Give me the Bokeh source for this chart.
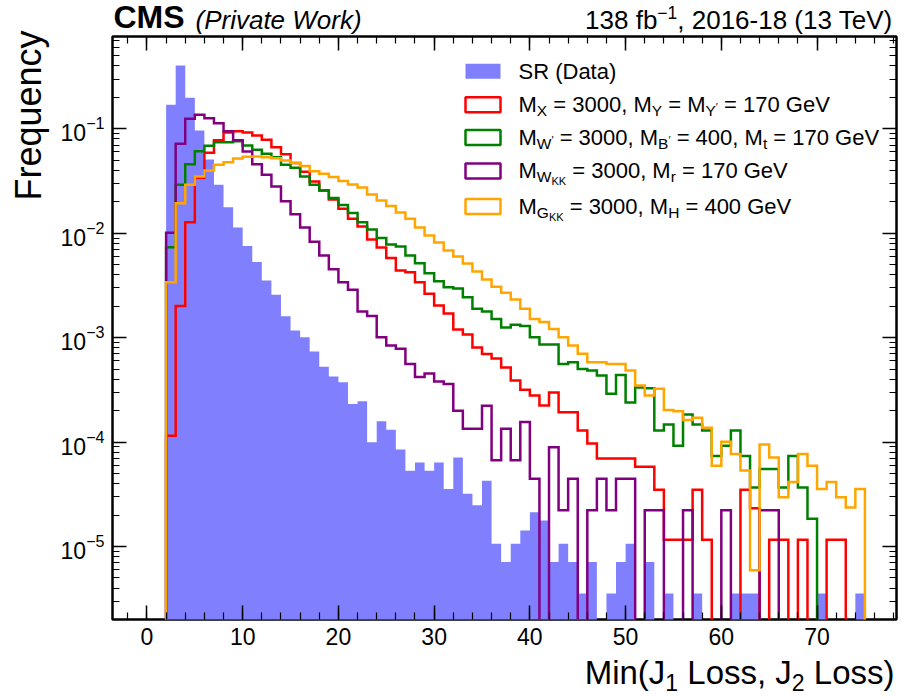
import numpy as np
from bokeh.plotting import figure
from bokeh.layouts import row, column
from bokeh.models import (Label, LinearAxis, LogAxis, SingleIntervalTicker, FixedTicker,
                          CustomJSTickFormatter, BoxAnnotation)
from bokeh.embed import file_html
from bokeh.resources import INLINE

# ------------------------------------------------------------------ data
bin_lo = 2.0
bin_width = 1.0

sr_data = [0.170, 0.404, 0.198, 0.0963, 0.0508, 0.0291, 0.01774, 0.01135, 0.00754, 0.00530,
           0.00352, 0.00257, 0.00160, 0.00117, 0.00101, 0.000736, 0.000528, 0.000424, 0.000374, 0.000232,
           0.000246, 9.95e-5, 1.58e-4, 1.31e-4, 8.5e-5, 5.33e-5, 6.39e-5, 5.33e-5, 6.39e-5, 3.55e-5,
           7.1e-5, 3.2e-5, 2.49e-5, 4.26e-5, 1.065e-5, 7.1e-6, 1.065e-5, 1.42e-5, 2.13e-5, 1.775e-5,
           7.1e-6, 1.065e-5, 7.1e-6, 3.55e-6, 7.1e-6, 0, 3.55e-6, 7.1e-6, 1.065e-5, 0,
           7.1e-6, 0, 3.55e-6, 0, 0, 3.55e-6, 0, 0, 0, 3.55e-6,
           3.55e-6, 3.55e-6, 0, 0, 0, 0, 0, 0, 3.55e-6, 0,
           0, 0, 3.55e-6]

sig_x = [1.15e-4, 0.00201, 0.01274, 0.0340, 0.0589, 0.0778, 0.0922, 0.0948, 0.0922, 0.0863,
         0.0785, 0.0667, 0.0571, 0.0470, 0.0388, 0.0313, 0.0256, 0.0210, 0.01714, 0.01374,
         0.01159, 0.00871, 0.00730, 0.00578, 0.00439, 0.00423, 0.00339, 0.00263, 0.00203, 0.00170,
         0.00120, 0.00107, 0.000804, 0.000697, 0.000631, 0.000517, 0.000388, 0.000318, 0.000279, 0.000224,
         0.000298, 0.000193, 0.000193, 0.000129, 9.68e-5, 6.98e-5, 6.98e-5, 6.98e-5, 6.98e-5, 5.82e-5,
         5.82e-5, 3.49e-5, 1.16e-5, 1.16e-5, 1.16e-5, 3.49e-5, 1.16e-5, 0, 0, 0,
         3.49e-5, 2.33e-5, 0, 1.16e-5, 1.16e-5, 0, 1.16e-5, 0, 0, 1.16e-5,
         1.16e-5, 0, 0]

sig_wprime = [0.00734, 0.0291, 0.0458, 0.0610, 0.0689, 0.0744, 0.0744, 0.0760, 0.0692, 0.0631,
              0.0576, 0.0535, 0.0452, 0.0424, 0.0349, 0.0292, 0.0256, 0.0217, 0.0186, 0.0156,
              0.01274, 0.01084, 0.00899, 0.00780, 0.00746, 0.00611, 0.00516, 0.00414, 0.00347, 0.00304,
              0.00295, 0.00244, 0.00189, 0.00178, 0.00151, 0.00125, 0.00133, 0.00129, 0.00101, 0.000859,
              0.000859, 0.000561, 0.000581, 0.000502, 0.000484, 0.000434, 0.000290, 0.000439, 0.000240, 0.000333,
              0.000327, 1.29e-4, 1.47e-4, 9.2e-5, 1.84e-4, 1.47e-4, 1.29e-4, 7.36e-5, 9.2e-5, 1.29e-4,
              7.36e-5, 3.68e-5, 5.52e-5, 5.52e-5, 3.68e-5, 7.36e-5, 3.68e-5, 1.84e-5, 0, 0,
              0, 0, 0]

sig_wkk = [0.01009, 0.0718, 0.1247, 0.1365, 0.1261, 0.1131, 0.0948, 0.0778, 0.0606, 0.0458,
           0.0363, 0.0281, 0.0202, 0.01517, 0.01135, 0.00830, 0.00611, 0.00452, 0.00339, 0.00287,
           0.00178, 0.00161, 0.00101, 0.000840, 0.000782, 0.000561, 0.000421, 0.000453, 0.000380, 0.000361,
           2.0e-4, 1.34e-4, 1.34e-4, 2.23e-4, 6.69e-5, 1.34e-4, 6.69e-5, 1.56e-4, 4.46e-5, 0,
           8.92e-5, 2.23e-5, 4.46e-5, 0, 2.23e-5, 4.46e-5, 2.23e-5, 4.46e-5, 4.46e-5, 0,
           2.23e-5, 2.23e-5, 0, 0, 2.23e-5, 0, 0, 0, 2.23e-5, 0,
           0, 0, 2.23e-5, 2.23e-5, 0, 0, 0, 0, 0, 0,
           0, 0, 0]

sig_gkk = [0.00339, 0.01938, 0.0291, 0.0349, 0.0399, 0.0452, 0.0479, 0.0519, 0.0539, 0.0543,
           0.0535, 0.0523, 0.0497, 0.0472, 0.0441, 0.0393, 0.0371, 0.0345, 0.0316, 0.0293,
           0.0274, 0.0235, 0.0206, 0.01824, 0.01578, 0.01374, 0.01135, 0.00951, 0.00815, 0.00683,
           0.00598, 0.00513, 0.00430, 0.00360, 0.00308, 0.00270, 0.00232, 0.00189, 0.00151, 0.00141,
           0.00121, 0.00101, 0.000840, 0.000700, 0.000581, 0.000581, 0.000561, 0.000561, 0.000484, 0.000348,
           0.000279, 0.000324, 0.000203, 0.000197, 0.000163, 0.000171, 0.000137, 5.93e-5, 1.01e-4, 7.71e-5,
           5.34e-5, 5.93e-6, 9.49e-5, 7.12e-5, 2.97e-5, 4.15e-5, 7.71e-5, 5.93e-5, 3.56e-5, 4.15e-5,
           2.97e-5, 2.37e-5, 3.56e-5]

x_major_step = 10
y_decades = [-6, -5, -4, -3, -2, -1, 0]

# ------------------------------------------------------------------ layout constants (page pixels)
W, H = 901, 699
LEFT_W = 55            # strip holding the y-axis title
HEAD_H = 34            # strip holding the CMS header
FOOT_H = 44            # strip holding the x-axis title
FL, FR, FT, FB = 112, 896, 36, 619   # plot frame in page pixels
XMIN, XMAX = -3.6, 78.3
YMIN, YMAX = 2.0e-6, 0.766
FONT = "Liberation Sans"
FLOOR = 1e-9
BASE_SHIFT = 0.345     # label anchor -> glyph baseline distance, in em

def px2x(X):
    return XMIN + (X - FL) / (FR - FL) * (XMAX - XMIN)

def px2y(Y):
    lt, lb = np.log10(YMAX), np.log10(YMIN)
    return 10 ** (lt - (Y - FT) / (FB - FT) * (lt - lb))

ARIAL = {' ': 278, '(': 333, ')': 333, ',': 278, '-': 333, '=': 584, '\u2212': 584, '\u2032': 190,
         'A': 667, 'B': 667, 'C': 722, 'D': 722, 'G': 778, 'H': 722, 'J': 500, 'K': 667, 'L': 556,
         'M': 833, 'P': 667, 'R': 722, 'S': 667, 'T': 611, 'V': 667, 'W': 944, 'X': 667, 'Y': 667,
         'a': 556, 'b': 556, 'e': 556, 'f': 278, 'i': 222, 'k': 500, 'n': 556, 'o': 556, 'r': 333,
         's': 500, 't': 278, 'v': 500}
for d in "0123456789":
    ARIAL[d] = 556

def tw(s, size):
    return sum(ARIAL.get(c, 556) for c in s) * size / 1000.0

def place_pieces(fig, items, x0, base, conv_x, conv_y, align_right=False):
    total = sum(tw(t, s) for t, s, dy, st in items)
    cur = x0 - total if align_right else x0
    for t, s, dy, st in items:
        lead = len(t) - len(t.lstrip(' '))
        body = t.strip(' ')
        cx = cur + tw(' ' * lead, s)
        if body:
            fig.add_layout(Label(x=conv_x(cx), y=conv_y(base + dy - BASE_SHIFT * s), text=body,
                                 text_font=FONT, text_font_size=f"{s}px", text_font_style=st,
                                 text_color="black", text_align="left", text_baseline="alphabetic"))
        cur += tw(t, s)

MAIN_W = W - LEFT_W
MAIN_H = H - HEAD_H - FOOT_H
B_LEFT = FL - LEFT_W
B_RIGHT = W - FR

def strip(h, y_top):
    # same horizontal borders as the main plot, so frames line up; coordinates are page pixels
    f = figure(width=MAIN_W, height=h, x_range=(FL, FR), y_range=(y_top + h, y_top),
               output_backend="svg", toolbar_location=None, x_axis_location=None,
               y_axis_location=None, title=None, min_border_left=B_LEFT, min_border_right=B_RIGHT,
               min_border_top=0, min_border_bottom=0)
    f.xgrid.visible = False
    f.ygrid.visible = False
    f.outline_line_color = None
    return f

p = figure(width=MAIN_W, height=MAIN_H, x_range=(XMIN, XMAX), y_range=(YMIN, YMAX), y_axis_type="log",
           output_backend="svg", toolbar_location=None, title=None,
           min_border_left=B_LEFT, min_border_right=B_RIGHT,
           min_border_top=FT - HEAD_H, min_border_bottom=(H - FOOT_H) - FB)
p.xgrid.visible = False
p.ygrid.visible = False
p.outline_line_color = "black"
p.outline_line_width = 2.5

edges = bin_lo + bin_width * np.arange(len(sr_data) + 1)

def outline(vals):
    v = np.asarray(vals, dtype=float)
    v = np.where(v > 0, v, FLOOR)
    xs = np.repeat(edges, 2)
    ys = np.concatenate([[FLOOR], np.repeat(v, 2), [FLOOR]])
    return xs, ys

xs, ys = outline(sr_data)
p.patch(xs, ys, fill_color="#8080ff", line_color=None)

series = [(sig_x, "#ff0000"), (sig_wprime, "#008000"), (sig_wkk, "#800080"), (sig_gkk, "#ffa500")]
for vals, col in series:
    xs, ys = outline(vals)
    p.line(xs, ys, line_color=col, line_width=2.5, line_join="miter")

# ------------------------------------------------------------------ axes
xt = SingleIntervalTicker(interval=x_major_step, num_minor_ticks=5)
ymaj = [10.0 ** k for k in y_decades]
ymin_t = [m * 10.0 ** k for k in y_decades[:-1] for m in range(2, 10)]
yt = FixedTicker(ticks=ymaj, minor_ticks=ymin_t)

def style(ax):
    ax.axis_line_color = None
    ax.major_tick_in = 14
    ax.major_tick_out = 0
    ax.minor_tick_in = 7
    ax.minor_tick_out = 0
    ax.major_tick_line_width = 1.5
    ax.minor_tick_line_width = 1.2
    ax.major_label_text_font = FONT
    ax.major_label_text_font_size = "23px"
    ax.major_label_text_color = "black"

p.xaxis[0].ticker = xt
p.yaxis[0].ticker = yt
style(p.xaxis[0])
style(p.yaxis[0])
p.xaxis[0].major_label_standoff = 8
p.yaxis[0].major_label_standoff = 8

top = LinearAxis(ticker=xt, formatter=CustomJSTickFormatter(code="return ''"))
style(top)
top.major_label_standoff = 0
top.major_label_text_font_size = "0px"
p.add_layout(top, "above")
right = LogAxis(ticker=yt, formatter=CustomJSTickFormatter(code="return ''"))
style(right)
right.major_label_standoff = 0
right.major_label_text_font_size = "0px"
p.add_layout(right, "right")

# legend (inside the frame)
LS, SS, SSS = 22, 15.5, 11
legend_rows = [
    ("#8080ff", True, [("SR (Data)", LS, 0, "normal")]),
    ("#ff0000", False, [("M", LS, 0, "normal"), ("X", SS, 3.5, "normal"), (" = 3000, M", LS, 0, "normal"),
                        ("Y", SS, 3.5, "normal"), (" = M", LS, 0, "normal"), ("Y", SS, 3.5, "normal"),
                        ("\u2032", SSS, -1, "normal"), (" = 170 GeV", LS, 0, "normal")]),
    ("#008000", False, [("M", LS, 0, "normal"), ("W", SS, 3.5, "normal"), ("\u2032", SSS, -1, "normal"),
                        (" = 3000, M", LS, 0, "normal"), ("B", SS, 3.5, "normal"), ("\u2032", SSS, -1, "normal"),
                        (" = 400, M", LS, 0, "normal"), ("t", SS, 3.5, "normal"), (" = 170 GeV", LS, 0, "normal")]),
    ("#800080", False, [("M", LS, 0, "normal"), ("W", SS, 3.5, "normal"), ("KK", SSS, 6.5, "normal"),
                        (" = 3000, M", LS, 0, "normal"), ("r", SS, 3.5, "normal"), (" = 170 GeV", LS, 0, "normal")]),
    ("#ffa500", False, [("M", LS, 0, "normal"), ("G", SS, 3.5, "normal"), ("KK", SSS, 6.5, "normal"),
                        (" = 3000, M", LS, 0, "normal"), ("H", SS, 3.5, "normal"), (" = 400 GeV", LS, 0, "normal")]),
]
row_centers = [70.8, 104.2, 137.0, 170.5, 206.0]
for (col, filled, items), yc in zip(legend_rows, row_centers):
    box = BoxAnnotation(left=px2x(465), right=px2x(500), top=px2y(yc - 7.5), bottom=px2y(yc + 7.5),
                        fill_color=col if filled else None, fill_alpha=1.0 if filled else 0.0,
                        line_color=None if filled else col, line_width=2.5, line_alpha=1.0)
    p.add_layout(box)
    place_pieces(p, items, 518, yc + 7.5, px2x, px2y)

# ------------------------------------------------------------------ header / footer / left strips
ident = lambda v: v
head = strip(HEAD_H, 0)
place_pieces(head, [("CMS", 32, 0, "bold")], 113, 28, ident, ident)
place_pieces(head, [("(Private Work)", 26, 0, "italic")], 195, 28, ident, ident)
place_pieces(head, [("138 fb", 26, 0, "normal"), ("\u22121", 17.5, -9.5, "normal"),
                    (", 2016-18 (13 TeV)", 26, 0, "normal")], 895, 28, ident, ident, align_right=True)

foot = strip(FOOT_H, H - FOOT_H)
place_pieces(foot, [("Min(J", 33, 0, "normal"), ("1", 23, 7, "normal"), (" Loss, J", 33, 0, "normal"),
                    ("2", 23, 7, "normal"), (" Loss)", 33, 0, "normal")], 894, 683, ident, ident,
             align_right=True)

left = figure(width=LEFT_W, height=H, x_range=(0, LEFT_W), y_range=(H, 0), output_backend="svg",
              toolbar_location=None, x_axis_location=None, y_axis_location=None, title=None, min_border=0)
left.xgrid.visible = False
left.ygrid.visible = False
left.outline_line_color = None
YL_SIZE = 36
left.add_layout(Label(x=40 - BASE_SHIFT * YL_SIZE, y=30, text="Frequency", text_font=FONT,
                      text_font_size=f"{YL_SIZE}px", angle=np.pi / 2, text_align="right",
                      text_baseline="alphabetic", text_color="black"))

layout = row(left, column(head, p, foot))
open("out.html", "w").write(file_html(layout, INLINE))
